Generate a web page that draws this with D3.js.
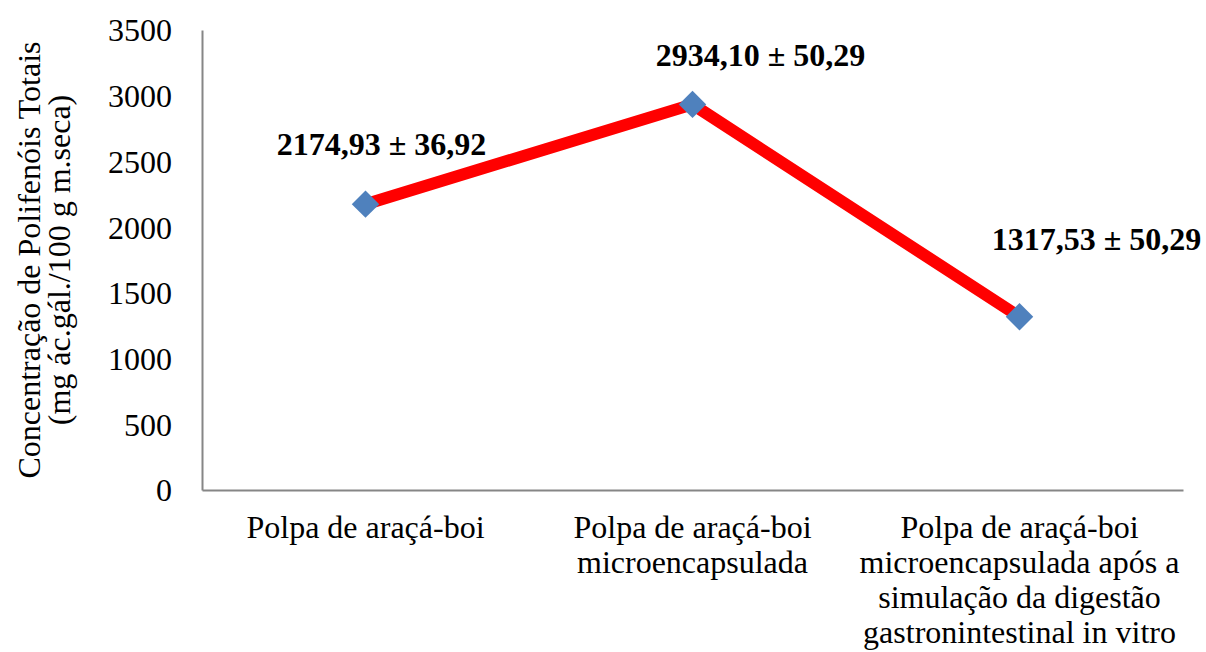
<!DOCTYPE html>
<html>
<head>
<meta charset="utf-8">
<script src="https://cdn.jsdelivr.net/npm/d3@7"></script>
<style>
  html, body { margin: 0; padding: 0; background: #fff; }
  svg { display: block; }
  svg text { font-family: 'Liberation Serif', 'Times New Roman', serif; fill: #000; }
</style>
</head>
<body>
<svg id="chart" width="1206" height="652"></svg>
<script>
// Polyphenol content of araçá-boi pulp samples
const categories = [
  ["Polpa de araçá-boi"],
  ["Polpa de araçá-boi", "microencapsulada"],
  ["Polpa de araçá-boi", "microencapsulada após a", "simulação da digestão", "gastronintestinal in vitro"]
];
const values = [2174.93, 2934.10, 1317.53];
const errors = [36.92, 50.29, 50.29];
const yTicks = [0, 500, 1000, 1500, 2000, 2500, 3000, 3500];
const yTitle = ["Concentração de Polifenóis Totais", "(mg ác.gál./100 g m.seca)"];

const fmt = v => v.toFixed(2).replace(".", ",");
const serif = "'Liberation Serif', 'Times New Roman', serif";

const svg = d3.select("#chart");
const m = { left: 202, right: 1183, top: 30, bottom: 490 };

const x = d3.scaleBand().domain(d3.range(categories.length)).range([m.left, m.right]).padding(0);
const y = d3.scaleLinear().domain([0, 3500]).range([m.bottom, m.top]);

// Axes
const yAxis = svg.append("g").attr("transform", `translate(${m.left},0)`)
  .call(d3.axisLeft(y).tickValues(yTicks).tickSize(0).tickPadding(30).tickFormat(d3.format("d")));
yAxis.attr("font-family", null).attr("font-size", null);
yAxis.select(".domain").attr("stroke", "#868686").attr("stroke-width", 2);
yAxis.selectAll("text").style("font-family", serif).style("font-size", "32px")
  .attr("fill", "#000").attr("dy", "0.34em");

const xAxis = svg.append("g").attr("transform", `translate(0,${m.bottom})`)
  .call(d3.axisBottom(x).tickSize(0).tickFormat(""));
xAxis.select(".domain").attr("stroke", "#868686").attr("stroke-width", 2);

// Category labels (multi-line)
const catG = svg.append("g");
categories.forEach((lines, i) => {
  const cxi = x(i) + x.bandwidth() / 2;
  const t = catG.append("text")
    .attr("x", cxi)
    .attr("y", 538)
    .attr("text-anchor", "middle")
    .style("font-family", serif)
    .style("font-size", "32px");
  lines.forEach((ln, j) => {
    t.append("tspan").attr("x", cxi).attr("dy", j === 0 ? 0 : 35).text(ln);
  });
});

// Y axis title
const yt = svg.append("text")
  .attr("transform", `translate(0,${(m.top + m.bottom) / 2}) rotate(-90)`)
  .attr("text-anchor", "middle")
  .style("font-family", serif)
  .style("font-size", "32px");
yTitle.forEach((ln, j) => {
  yt.append("tspan").attr("x", 0).attr("y", j === 0 ? 40 : 70).text(ln);
});

// Line
const cx = i => x(i) + x.bandwidth() / 2;
svg.append("path")
  .datum(values)
  .attr("fill", "none")
  .attr("stroke", "#ff0000")
  .attr("stroke-width", 12)
  .attr("stroke-linejoin", "round")
  .attr("d", d3.line().x((d, i) => cx(i)).y(d => y(d)));

// Diamond markers
svg.selectAll(".marker").data(values).enter().append("path")
  .attr("class", "marker")
  .attr("transform", (d, i) => `translate(${cx(i)},${y(d)})`)
  .attr("d", d3.symbol().type(d3.symbolDiamond2).size(480))
  .attr("fill", "#4f81bd");

// Data labels
const labelOffsets = [[16, -49], [68, -38], [77, -67]];
svg.selectAll(".dlabel").data(values).enter().append("text")
  .attr("class", "dlabel")
  .attr("x", (d, i) => cx(i) + labelOffsets[i][0])
  .attr("y", (d, i) => y(d) + labelOffsets[i][1])
  .attr("text-anchor", "middle")
  .style("font-family", serif)
  .style("font-size", "32px")
  .style("font-weight", "bold")
  .text((d, i) => `${fmt(d)} ± ${fmt(errors[i])}`);
</script>
</body>
</html>
